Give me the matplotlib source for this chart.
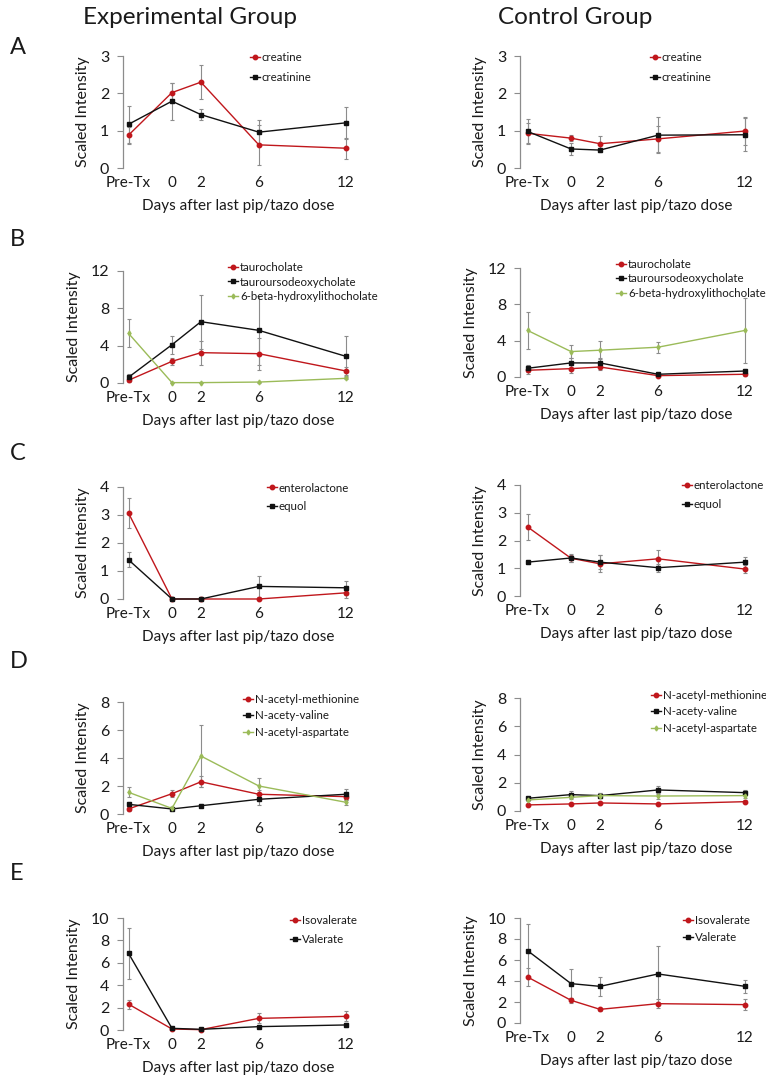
import matplotlib
matplotlib.use("Agg")
import matplotlib.pyplot as plt

plt.rcParams['font.family'] = ['Lato', 'DejaVu Sans']

# x positions (days) and labels
days = [-3, 0, 2, 6, 12]
day_labels = ["Pre-Tx", "0", "2", "6", "12"]

# A - creatine / creatinine
creatine_exp = [0.88, 2.02, 2.30, 0.62, 0.53]
creatine_exp_err = [0.23, 0.27, 0.45, 0.54, 0.28]
creatinine_exp = [1.17, 1.79, 1.43, 0.96, 1.21]
creatinine_exp_err = [0.50, 0.50, 0.15, 0.32, 0.42]
creatine_ctrl = [0.93, 0.80, 0.65, 0.78, 0.99]
creatine_ctrl_err = [0.27, 0.09, 0.20, 0.35, 0.38]
creatinine_ctrl = [0.98, 0.51, 0.48, 0.88, 0.89]
creatinine_ctrl_err = [0.33, 0.17, 0.05, 0.48, 0.44]

# B - bile acids
tauro_exp = [0.29, 2.32, 3.25, 3.14, 1.29]
tauro_exp_err = [0.15, 0.40, 1.30, 1.70, 0.45]
tudca_exp = [0.61, 4.10, 6.57, 5.64, 2.86]
tudca_exp_err = [0.35, 0.97, 2.90, 3.70, 2.14]
hydroxy_exp = [5.32, 0.04, 0.04, 0.10, 0.50]
hydroxy_exp_err = [1.50, 0.05, 0.05, 0.05, 0.10]
tauro_ctrl = [0.74, 0.92, 1.10, 0.15, 0.30]
tauro_ctrl_err = [0.45, 0.45, 0.35, 0.10, 0.15]
tudca_ctrl = [0.96, 1.55, 1.55, 0.30, 0.66]
tudca_ctrl_err = [0.40, 0.55, 0.50, 0.10, 0.25]
hydroxy_ctrl = [5.13, 2.80, 2.95, 3.28, 5.13]
hydroxy_ctrl_err = [2.00, 0.70, 1.00, 0.60, 3.55]

# C - enterolactone / equol
entero_exp = [3.07, 0.0, 0.0, 0.0, 0.22]
entero_exp_err = [0.52, 0.0, 0.0, 0.0, 0.20]
equol_exp = [1.40, 0.0, 0.0, 0.45, 0.40]
equol_exp_err = [0.27, 0.0, 0.0, 0.38, 0.25]
entero_ctrl = [2.49, 1.36, 1.16, 1.34, 0.97]
entero_ctrl_err = [0.47, 0.13, 0.30, 0.30, 0.15]
equol_ctrl = [1.22, 1.37, 1.22, 1.02, 1.22]
equol_ctrl_err = [0.08, 0.13, 0.25, 0.15, 0.20]

# D - N-acetyl amino acids
nmet_exp = [0.36, 1.45, 2.30, 1.41, 1.24]
nmet_exp_err = [0.15, 0.25, 0.40, 0.30, 0.25]
nval_exp = [0.69, 0.36, 0.59, 1.05, 1.41]
nval_exp_err = [0.20, 0.08, 0.10, 0.40, 0.40]
nasp_exp = [1.55, 0.40, 4.14, 2.00, 0.84]
nasp_exp_err = [0.35, 0.10, 2.20, 0.60, 0.20]
nmet_ctrl = [0.43, 0.50, 0.57, 0.50, 0.66]
nmet_ctrl_err = [0.08, 0.08, 0.08, 0.10, 0.10]
nval_ctrl = [0.90, 1.16, 1.09, 1.49, 1.30]
nval_ctrl_err = [0.12, 0.25, 0.15, 0.30, 0.20]
nasp_ctrl = [0.78, 0.97, 1.09, 1.06, 1.09]
nasp_ctrl_err = [0.10, 0.15, 0.15, 0.20, 0.15]

# E - isovalerate / valerate
isoval_exp = [2.31, 0.09, 0.03, 1.04, 1.22]
isoval_exp_err = [0.40, 0.05, 0.03, 0.45, 0.45]
val_exp = [6.85, 0.15, 0.06, 0.30, 0.45]
val_exp_err = [2.30, 0.05, 0.03, 0.10, 0.15]
isoval_ctrl = [4.38, 2.16, 1.30, 1.84, 1.75]
isoval_ctrl_err = [0.82, 0.25, 0.15, 0.40, 0.55]
val_ctrl = [6.89, 3.75, 3.49, 4.67, 3.49]
val_ctrl_err = [2.57, 1.40, 0.90, 2.70, 0.64]

RED = "#C0171C"
BLACK = "#111111"
GREEN = "#9BBB59"
GRAY = "#8C8C8C"
TXT = "#1a1a1a"

W, H = 766, 1079
fig = plt.figure(figsize=(W / 100, H / 100), dpi=100)


def px_axes(left, right, top, bottom):
    return fig.add_axes([left / W, 1 - bottom / H, (right - left) / W, (bottom - top) / H])


def panel(ax, series, ymax, ystep, xlim, leg_x, leg_y, leg_space):
    for vals, errs, col, mk, ms, lab in series:
        ax.errorbar(days, vals, yerr=errs, fmt='none', ecolor=GRAY, elinewidth=0.8,
                    capsize=1.2, capthick=0.8, clip_on=False, zorder=2)
        ax.plot(days, vals, color=col, marker=mk, markersize=ms, linewidth=1.0,
                label=lab, clip_on=False, zorder=3)
    ax.set_xlim(*xlim)
    ax.set_ylim(0, ymax)
    ax.set_yticks(list(range(0, ymax + 1, ystep)))
    ax.set_xticks(days)
    ax.set_xticklabels(day_labels)
    for s in ['top', 'right', 'bottom']:
        ax.spines[s].set_visible(False)
    ax.spines['left'].set_color(GRAY)
    ax.spines['left'].set_linewidth(0.9)
    ax.tick_params(axis='y', direction='out', length=4, width=0.8, color=GRAY,
                   labelsize=11.5, labelcolor=TXT, pad=6)
    ax.tick_params(axis='x', length=0, labelsize=11, labelcolor=TXT, pad=6)
    ax.set_xlabel("Days after last pip/tazo dose", fontsize=11, color=TXT, labelpad=6)
    ax.set_ylabel("Scaled Intensity", fontsize=11.5, color=TXT, labelpad=7)
    fs = 8.3
    fs_px = fs * 100 / 72
    hl = 0.9
    leg = ax.legend(loc='center left', frameon=False, fontsize=fs,
                    handlelength=hl, handletextpad=0.15, borderpad=0, borderaxespad=0,
                    labelspacing=leg_space,
                    bbox_to_anchor=((leg_x - hl * fs_px / 2) / W, 1 - leg_y / H),
                    bbox_transform=fig.transFigure)
    for t in leg.get_texts():
        t.set_color(TXT)


xl_left = (-3.38, 12.5)
xl_right = (-3.52, 12.48)
LEFT_COL = (123, 353)
RIGHT_COL = (520, 752)

# A
ax = px_axes(*LEFT_COL, 56, 168)
panel(ax, [(creatine_exp, creatine_exp_err, RED, 'o', 3.2, "creatine"),
           (creatinine_exp, creatinine_exp_err, BLACK, 's', 3.3, "creatinine")],
      3, 1, xl_left, 255, 67.5, 0.82)
ax = px_axes(*RIGHT_COL, 56, 168)
panel(ax, [(creatine_ctrl, creatine_ctrl_err, RED, 'o', 3.2, "creatine"),
           (creatinine_ctrl, creatinine_ctrl_err, BLACK, 's', 3.3, "creatinine")],
      3, 1, xl_right, 655, 67.5, 0.82)

# B
ax = px_axes(*LEFT_COL, 271, 383)
panel(ax, [(tauro_exp, tauro_exp_err, RED, 'o', 3.2, "taurocholate"),
           (tudca_exp, tudca_exp_err, BLACK, 's', 3.3, "tauroursodeoxycholate"),
           (hydroxy_exp, hydroxy_exp_err, GREEN, 'd', 2.5, "6-beta-hydroxylithocholate")],
      12, 4, xl_left, 233, 282, 0.28)
ax = px_axes(*RIGHT_COL, 268, 377)
panel(ax, [(tauro_ctrl, tauro_ctrl_err, RED, 'o', 3.2, "taurocholate"),
           (tudca_ctrl, tudca_ctrl_err, BLACK, 's', 3.3, "tauroursodeoxycholate"),
           (hydroxy_ctrl, hydroxy_ctrl_err, GREEN, 'd', 2.5, "6-beta-hydroxylithocholate")],
      12, 4, xl_right, 621, 279, 0.28)

# C
ax = px_axes(*LEFT_COL, 487, 599)
panel(ax, [(entero_exp, entero_exp_err, RED, 'o', 3.2, "enterolactone"),
           (equol_exp, equol_exp_err, BLACK, 's', 3.3, "equol")],
      4, 1, xl_left, 272, 497.5, 0.69)
ax = px_axes(*RIGHT_COL, 485, 596)
panel(ax, [(entero_ctrl, entero_ctrl_err, RED, 'o', 3.2, "enterolactone"),
           (equol_ctrl, equol_ctrl_err, BLACK, 's', 3.3, "equol")],
      4, 1, xl_right, 687, 495, 0.69)

# D
ax = px_axes(*LEFT_COL, 702, 814)
panel(ax, [(nmet_exp, nmet_exp_err, RED, 'o', 3.2, "N-acetyl-methionine"),
           (nval_exp, nval_exp_err, BLACK, 's', 3.3, "N-acety-valine"),
           (nasp_exp, nasp_exp_err, GREEN, 'd', 2.5, "N-acetyl-aspartate")],
      8, 2, xl_left, 248, 716, 0.46)
ax = px_axes(*RIGHT_COL, 698, 811)
panel(ax, [(nmet_ctrl, nmet_ctrl_err, RED, 'o', 3.2, "N-acetyl-methionine"),
           (nval_ctrl, nval_ctrl_err, BLACK, 's', 3.3, "N-acety-valine"),
           (nasp_ctrl, nasp_ctrl_err, GREEN, 'd', 2.5, "N-acetyl-aspartate")],
      8, 2, xl_right, 656, 712, 0.46)

# E
ax = px_axes(*LEFT_COL, 918, 1030)
panel(ax, [(isoval_exp, isoval_exp_err, RED, 'o', 3.2, "Isovalerate"),
           (val_exp, val_exp_err, BLACK, 's', 3.3, "Valerate")],
      10, 2, xl_left, 295, 930, 0.73)
ax = px_axes(*RIGHT_COL, 918, 1023)
panel(ax, [(isoval_ctrl, isoval_ctrl_err, RED, 'o', 3.2, "Isovalerate"),
           (val_ctrl, val_ctrl_err, BLACK, 's', 3.3, "Valerate")],
      10, 2, xl_right, 688, 929, 0.55)

# column titles and panel letters
fig.text(190 / W, 1 - 18 / H, "Experimental Group", fontsize=17.5, color=TXT,
         ha='center', va='center')
fig.text(575 / W, 1 - 18 / H, "Control Group", fontsize=17.5, color=TXT,
         ha='center', va='center')
for letter, yy in zip("ABCDE", [47, 240, 453, 662, 873]):
    fig.text(10 / W, 1 - yy / H, letter, fontsize=17, color=TXT, ha='left', va='center')

fig.savefig("out.png", dpi=100)
